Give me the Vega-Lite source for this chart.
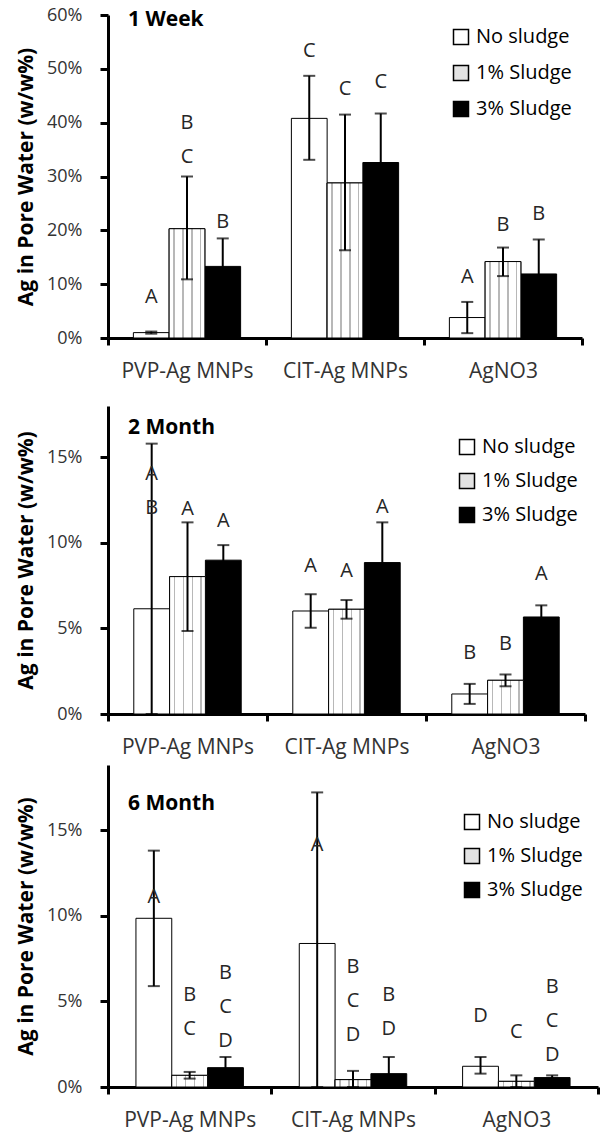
{
  "$schema": "https://vega.github.io/schema/vega-lite/v6.json",
  "background": "white",
  "padding": {"left": 15, "top": 6, "right": 5, "bottom": 5},
  "datasets": {
    "pw": [
      {"panel": "1 Week", "group": "PVP-Ag MNPs", "treatment": "No sludge", "value": 1.0, "lo": 0.8, "hi": 1.2, "letter": "A", "letter_y": 7.7},
      {"panel": "1 Week", "group": "PVP-Ag MNPs", "treatment": "1% Sludge", "value": 20.3, "lo": 10.9, "hi": 30.0, "letter": "B\nC", "letter_y": 39.9},
      {"panel": "1 Week", "group": "PVP-Ag MNPs", "treatment": "3% Sludge", "value": 13.3, "lo": 8.1, "hi": 18.5, "letter": "B", "letter_y": 21.6},
      {"panel": "1 Week", "group": "CIT-Ag MNPs", "treatment": "No sludge", "value": 40.8, "lo": 33.1, "hi": 48.7, "letter": "C", "letter_y": 53.4},
      {"panel": "1 Week", "group": "CIT-Ag MNPs", "treatment": "1% Sludge", "value": 28.8, "lo": 16.3, "hi": 41.5, "letter": "C", "letter_y": 46.2},
      {"panel": "1 Week", "group": "CIT-Ag MNPs", "treatment": "3% Sludge", "value": 32.6, "lo": 23.5, "hi": 41.7, "letter": "C", "letter_y": 47.6},
      {"panel": "1 Week", "group": "AgNO3", "treatment": "No sludge", "value": 3.8, "lo": 0.9, "hi": 6.7, "letter": "A", "letter_y": 11.4},
      {"panel": "1 Week", "group": "AgNO3", "treatment": "1% Sludge", "value": 14.2, "lo": 11.5, "hi": 16.8, "letter": "B", "letter_y": 21.0},
      {"panel": "1 Week", "group": "AgNO3", "treatment": "3% Sludge", "value": 11.9, "lo": 5.5, "hi": 18.3, "letter": "B", "letter_y": 23.0},

      {"panel": "2 Month", "group": "PVP-Ag MNPs", "treatment": "No sludge", "value": 6.15, "lo": 0, "hi": 15.8, "letter": "A\nB", "letter_y": 14.0},
      {"panel": "2 Month", "group": "PVP-Ag MNPs", "treatment": "1% Sludge", "value": 8.03, "lo": 4.85, "hi": 11.2, "letter": "A", "letter_y": 11.97},
      {"panel": "2 Month", "group": "PVP-Ag MNPs", "treatment": "3% Sludge", "value": 8.99, "lo": 8.1, "hi": 9.87, "letter": "A", "letter_y": 11.29},
      {"panel": "2 Month", "group": "CIT-Ag MNPs", "treatment": "No sludge", "value": 6.02, "lo": 5.04, "hi": 7.0, "letter": "A", "letter_y": 8.65},
      {"panel": "2 Month", "group": "CIT-Ag MNPs", "treatment": "1% Sludge", "value": 6.12, "lo": 5.57, "hi": 6.66, "letter": "A", "letter_y": 8.36},
      {"panel": "2 Month", "group": "CIT-Ag MNPs", "treatment": "3% Sludge", "value": 8.85, "lo": 6.5, "hi": 11.2, "letter": "A", "letter_y": 12.07},
      {"panel": "2 Month", "group": "AgNO3", "treatment": "No sludge", "value": 1.17, "lo": 0.59, "hi": 1.76, "letter": "B", "letter_y": 3.57},
      {"panel": "2 Month", "group": "AgNO3", "treatment": "1% Sludge", "value": 1.97, "lo": 1.62, "hi": 2.31, "letter": "B", "letter_y": 4.07},
      {"panel": "2 Month", "group": "AgNO3", "treatment": "3% Sludge", "value": 5.67, "lo": 4.99, "hi": 6.35, "letter": "A", "letter_y": 8.17},

      {"panel": "6 Month", "group": "PVP-Ag MNPs", "treatment": "No sludge", "value": 9.85, "lo": 5.89, "hi": 13.8, "letter": "A", "letter_y": 11.1},
      {"panel": "6 Month", "group": "PVP-Ag MNPs", "treatment": "1% Sludge", "value": 0.68, "lo": 0.49, "hi": 0.88, "letter": "B\nC", "letter_y": 5.36},
      {"panel": "6 Month", "group": "PVP-Ag MNPs", "treatment": "3% Sludge", "value": 1.13, "lo": 0.51, "hi": 1.75, "letter": "B\nC\nD", "letter_y": 6.63},
      {"panel": "6 Month", "group": "CIT-Ag MNPs", "treatment": "No sludge", "value": 8.38, "lo": 0, "hi": 17.2, "letter": "A", "letter_y": 14.13},
      {"panel": "6 Month", "group": "CIT-Ag MNPs", "treatment": "1% Sludge", "value": 0.43, "lo": 0, "hi": 0.94, "letter": "B\nC\nD", "letter_y": 7.02},
      {"panel": "6 Month", "group": "CIT-Ag MNPs", "treatment": "3% Sludge", "value": 0.78, "lo": 0, "hi": 1.75, "letter": "B\nD", "letter_y": 5.36},
      {"panel": "6 Month", "group": "AgNO3", "treatment": "No sludge", "value": 1.21, "lo": 0.78, "hi": 1.75, "letter": "D", "letter_y": 4.13},
      {"panel": "6 Month", "group": "AgNO3", "treatment": "1% Sludge", "value": 0.33, "lo": 0, "hi": 0.68, "letter": "C", "letter_y": 3.22},
      {"panel": "6 Month", "group": "AgNO3", "treatment": "3% Sludge", "value": 0.55, "lo": 0.42, "hi": 0.68, "letter": "B\nC\nD", "letter_y": 5.85}
    ]
  },
  "spacing": 25,
  "resolve": {"scale": {"x": "independent", "y": "independent", "xOffset": "independent", "color": "independent"}, "legend": {"color": "independent"}},
  "vconcat": [
    {
      "width": 474, "height": 323,
      "data": {"name": "pw"},
      "transform": [{"filter": "datum.panel === '1 Week'"}],
      "title": {"text": "1 Week", "anchor": "start", "frame": "group", "dx": 20, "offset": -35, "baseline": "middle", "font": "Open Sans", "fontSize": 21, "fontWeight": "bold", "color": "black"},
      "encoding": {
        "x": {"field": "group", "type": "nominal", "sort": ["PVP-Ag MNPs", "CIT-Ag MNPs", "AgNO3"], "scale": {"paddingInner": 0, "paddingOuter": 0}, "axis": {"title": null, "labelAngle": 0, "tickBand": "extent", "tickSize": 7, "tickWidth": 3, "domainWidth": 3, "labelPadding": 15}},
        "xOffset": {"field": "treatment", "type": "nominal", "sort": ["No sludge", "1% Sludge", "3% Sludge"], "scale": {"paddingInner": 0, "paddingOuter": 0.71}}
      },
      "layer": [
        {"mark": {"type": "bar", "stroke": "black", "strokeWidth": 1},
         "encoding": {
           "y": {"field": "value", "type": "quantitative", "scale": {"domain": [0, 60], "nice": false}, "axis": {"values": [0, 10, 20, 30, 40, 50, 60], "labelExpr": "datum.value + '%'", "title": "Ag in Pore Water (w/w%)"}},
           "color": {"field": "treatment", "type": "nominal", "sort": ["No sludge", "1% Sludge", "3% Sludge"], "scale": {"domain": ["No sludge", "1% Sludge", "3% Sludge"], "range": ["white", "#e3e3e3", "black"]},
             "legend": {"title": null, "orient": "none", "legendX": 343, "legendY": 12, "rowPadding": 14}}
         }},
        {"transform": [{"filter": "datum.treatment === '1% Sludge'"}],
         "mark": {"type": "bar", "stroke": "black", "strokeWidth": 1, "fill": {"gradient": "linear", "x1": 0, "y1": 0, "x2": 1, "y2": 0, "stops": [{"offset": 0, "color": "white"}, {"offset": 0.12, "color": "white"}, {"offset": 0.12, "color": "#b8b8b8"}, {"offset": 0.16, "color": "#b8b8b8"}, {"offset": 0.16, "color": "white"}, {"offset": 0.37, "color": "white"}, {"offset": 0.37, "color": "#b8b8b8"}, {"offset": 0.41, "color": "#b8b8b8"}, {"offset": 0.41, "color": "white"}, {"offset": 0.62, "color": "white"}, {"offset": 0.62, "color": "#b8b8b8"}, {"offset": 0.66, "color": "#b8b8b8"}, {"offset": 0.66, "color": "white"}, {"offset": 0.86, "color": "white"}, {"offset": 0.86, "color": "#b8b8b8"}, {"offset": 0.9, "color": "#b8b8b8"}, {"offset": 0.9, "color": "white"}, {"offset": 1, "color": "white"}]}},
         "encoding": {"y": {"field": "value", "type": "quantitative"}}},
        {"mark": {"type": "rule", "color": "black", "strokeWidth": 2},
         "encoding": {"y": {"field": "lo", "type": "quantitative"}, "y2": {"field": "hi"}}},
        {"mark": {"type": "tick", "color": "black", "thickness": 2, "size": 12},
         "encoding": {"y": {"field": "hi", "type": "quantitative"}}},
        {"mark": {"type": "tick", "color": "black", "thickness": 2, "size": 12},
         "encoding": {"y": {"field": "lo", "type": "quantitative"}}},
        {"mark": {"type": "text", "font": "Open Sans", "fontSize": 20, "color": "#262626", "lineBreak": "\n", "lineHeight": 34, "baseline": "middle"},
         "encoding": {"y": {"field": "letter_y", "type": "quantitative"}, "text": {"field": "letter"}}}
      ]
    },
    {
      "spacing": 8,
      "resolve": {"scale": {"x": "independent", "y": "independent", "xOffset": "independent", "color": "independent"}, "legend": {"color": "independent"}},
      "vconcat": [
        {
          "width": 477, "height": 308,
          "data": {"name": "pw"},
          "transform": [{"filter": "datum.panel === '2 Month'"}],
          "title": {"text": "2 Month", "anchor": "start", "frame": "group", "dx": 20, "offset": -43, "baseline": "middle", "font": "Open Sans", "fontSize": 21, "fontWeight": "bold", "color": "black"},
          "encoding": {
            "x": {"field": "group", "type": "nominal", "sort": ["PVP-Ag MNPs", "CIT-Ag MNPs", "AgNO3"], "scale": {"paddingInner": 0, "paddingOuter": 0}, "axis": {"title": null, "labelAngle": 0, "tickBand": "extent", "tickSize": 7, "tickWidth": 3, "domainWidth": 3, "labelPadding": 15}},
            "xOffset": {"field": "treatment", "type": "nominal", "sort": ["No sludge", "1% Sludge", "3% Sludge"], "scale": {"paddingInner": 0, "paddingOuter": 0.72}}
          },
          "layer": [
            {"mark": {"type": "bar", "stroke": "black", "strokeWidth": 1},
             "encoding": {
               "y": {"field": "value", "type": "quantitative", "scale": {"domain": [0, 18], "nice": false}, "axis": {"values": [0, 5, 10, 15], "labelExpr": "datum.value + '%'", "title": "Ag in Pore Water (w/w%)"}},
               "color": {"field": "treatment", "type": "nominal", "sort": ["No sludge", "1% Sludge", "3% Sludge"], "scale": {"domain": ["No sludge", "1% Sludge", "3% Sludge"], "range": ["white", "#e3e3e3", "black"]},
                 "legend": {"title": null, "orient": "none", "legendX": 349, "legendY": 31, "rowPadding": 12}}
             }},
            {"transform": [{"filter": "datum.treatment === '1% Sludge'"}],
             "mark": {"type": "bar", "stroke": "black", "strokeWidth": 1, "fill": {"gradient": "linear", "x1": 0, "y1": 0, "x2": 1, "y2": 0, "stops": [{"offset": 0, "color": "white"}, {"offset": 0.12, "color": "white"}, {"offset": 0.12, "color": "#b8b8b8"}, {"offset": 0.16, "color": "#b8b8b8"}, {"offset": 0.16, "color": "white"}, {"offset": 0.37, "color": "white"}, {"offset": 0.37, "color": "#b8b8b8"}, {"offset": 0.41, "color": "#b8b8b8"}, {"offset": 0.41, "color": "white"}, {"offset": 0.62, "color": "white"}, {"offset": 0.62, "color": "#b8b8b8"}, {"offset": 0.66, "color": "#b8b8b8"}, {"offset": 0.66, "color": "white"}, {"offset": 0.86, "color": "white"}, {"offset": 0.86, "color": "#b8b8b8"}, {"offset": 0.9, "color": "#b8b8b8"}, {"offset": 0.9, "color": "white"}, {"offset": 1, "color": "white"}]}},
             "encoding": {"y": {"field": "value", "type": "quantitative"}}},
            {"mark": {"type": "rule", "color": "black", "strokeWidth": 2},
             "encoding": {"y": {"field": "lo", "type": "quantitative"}, "y2": {"field": "hi"}}},
            {"mark": {"type": "tick", "color": "black", "thickness": 2, "size": 12},
             "encoding": {"y": {"field": "hi", "type": "quantitative"}}},
            {"mark": {"type": "tick", "color": "black", "thickness": 2, "size": 12},
             "encoding": {"y": {"field": "lo", "type": "quantitative"}}},
            {"mark": {"type": "text", "font": "Open Sans", "fontSize": 20, "color": "#262626", "lineBreak": "\n", "lineHeight": 34, "baseline": "middle"},
             "encoding": {"y": {"field": "letter_y", "type": "quantitative"}, "text": {"field": "letter"}}}
          ]
        },
        {
          "width": 490, "height": 322,
          "data": {"name": "pw"},
          "transform": [{"filter": "datum.panel === '6 Month'"}],
          "title": {"text": "6 Month", "anchor": "start", "frame": "group", "dx": 20, "offset": -60, "baseline": "middle", "font": "Open Sans", "fontSize": 21, "fontWeight": "bold", "color": "black"},
          "encoding": {
            "x": {"field": "group", "type": "nominal", "sort": ["PVP-Ag MNPs", "CIT-Ag MNPs", "AgNO3"], "scale": {"paddingInner": 0, "paddingOuter": 0}, "axis": {"title": null, "labelAngle": 0, "tickBand": "extent", "tickSize": 7, "tickWidth": 3, "domainWidth": 3, "labelPadding": 15}},
            "xOffset": {"field": "treatment", "type": "nominal", "sort": ["No sludge", "1% Sludge", "3% Sludge"], "scale": {"paddingInner": 0, "paddingOuter": 0.78}}
          },
          "layer": [
            {"mark": {"type": "bar", "stroke": "black", "strokeWidth": 1},
             "encoding": {
               "y": {"field": "value", "type": "quantitative", "scale": {"domain": [0, 18.8], "nice": false}, "axis": {"values": [0, 5, 10, 15], "labelExpr": "datum.value + '%'", "title": "Ag in Pore Water (w/w%)"}},
               "color": {"field": "treatment", "type": "nominal", "sort": ["No sludge", "1% Sludge", "3% Sludge"], "scale": {"domain": ["No sludge", "1% Sludge", "3% Sludge"], "range": ["white", "#e3e3e3", "black"]},
                 "legend": {"title": null, "orient": "none", "legendX": 354, "legendY": 47, "rowPadding": 12}}
             }},
            {"transform": [{"filter": "datum.treatment === '1% Sludge'"}],
             "mark": {"type": "bar", "stroke": "black", "strokeWidth": 1, "fill": {"gradient": "linear", "x1": 0, "y1": 0, "x2": 1, "y2": 0, "stops": [{"offset": 0, "color": "white"}, {"offset": 0.12, "color": "white"}, {"offset": 0.12, "color": "#b8b8b8"}, {"offset": 0.16, "color": "#b8b8b8"}, {"offset": 0.16, "color": "white"}, {"offset": 0.37, "color": "white"}, {"offset": 0.37, "color": "#b8b8b8"}, {"offset": 0.41, "color": "#b8b8b8"}, {"offset": 0.41, "color": "white"}, {"offset": 0.62, "color": "white"}, {"offset": 0.62, "color": "#b8b8b8"}, {"offset": 0.66, "color": "#b8b8b8"}, {"offset": 0.66, "color": "white"}, {"offset": 0.86, "color": "white"}, {"offset": 0.86, "color": "#b8b8b8"}, {"offset": 0.9, "color": "#b8b8b8"}, {"offset": 0.9, "color": "white"}, {"offset": 1, "color": "white"}]}},
             "encoding": {"y": {"field": "value", "type": "quantitative"}}},
            {"mark": {"type": "rule", "color": "black", "strokeWidth": 2},
             "encoding": {"y": {"field": "lo", "type": "quantitative"}, "y2": {"field": "hi"}}},
            {"mark": {"type": "tick", "color": "black", "thickness": 2, "size": 12},
             "encoding": {"y": {"field": "hi", "type": "quantitative"}}},
            {"mark": {"type": "tick", "color": "black", "thickness": 2, "size": 12},
             "encoding": {"y": {"field": "lo", "type": "quantitative"}}},
            {"mark": {"type": "text", "font": "Open Sans", "fontSize": 20, "color": "#262626", "lineBreak": "\n", "lineHeight": 34, "baseline": "middle"},
             "encoding": {"y": {"field": "letter_y", "type": "quantitative"}, "text": {"field": "letter"}}}
          ]
        }
      ]
    }
  ],
  "config": {
    "view": {"stroke": null},
    "axis": {"grid": false, "domainColor": "black", "tickColor": "black", "labelFont": "Open Sans", "labelColor": "#333333", "titleFont": "Open Sans", "titleColor": "black"},
    "axisY": {"domainWidth": 3, "tickWidth": 3, "tickSize": 8, "labelPadding": 18, "labelFontSize": 18, "titleFontSize": 21, "titleFontWeight": "bold", "titlePadding": 10},
    "axisX": {"labelFontSize": 21},
    "legend": {"padding": 0, "symbolType": "square", "symbolSize": 225, "symbolStrokeColor": "black", "symbolStrokeWidth": 1.5, "labelFont": "Open Sans", "labelFontSize": 20, "labelColor": "black", "labelOffset": 5}
  }
}
